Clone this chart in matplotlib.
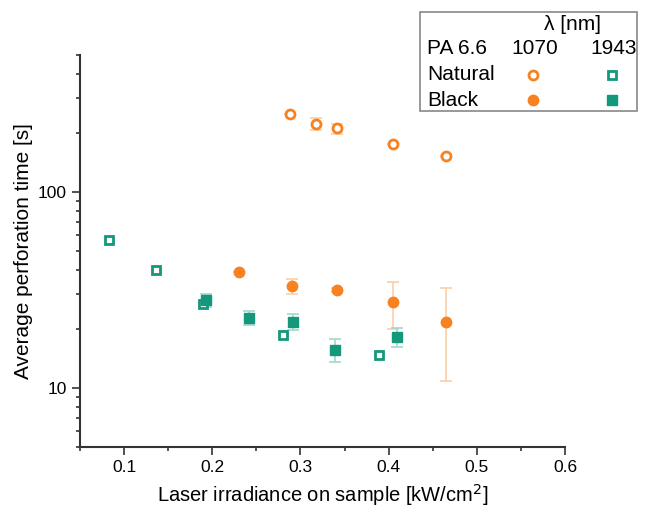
import numpy as np
import matplotlib
matplotlib.use("Agg")
import matplotlib.pyplot as plt
from matplotlib.lines import Line2D
from matplotlib.patches import Rectangle
from matplotlib.ticker import LogLocator, FixedLocator, NullFormatter

plt.rcParams['font.family'] = ['Liberation Sans', 'DejaVu Sans']

# PA 6.6 natural, 1070 nm
nat1070_x = [0.288, 0.318, 0.342, 0.405, 0.465]
nat1070_y = [249, 222, 211, 176, 152]
nat1070_lo = [249, 208, 198, 176, 150]
nat1070_hi = [249, 238, 223, 176, 155]

# PA 6.6 black, 1070 nm
blk1070_x = [0.230, 0.290, 0.342, 0.405, 0.465]
blk1070_y = [39.2, 33.1, 31.6, 27.5, 21.6]
blk1070_lo = [39.2, 30.3, 31.0, 20.0, 10.8]
blk1070_hi = [39.2, 35.9, 32.2, 34.6, 32.5]

# PA 6.6 natural, 1943 nm
nat1943_x = [0.083, 0.136, 0.190, 0.280, 0.389]
nat1943_y = [56.9, 40.0, 26.8, 18.6, 14.7]

# PA 6.6 black, 1943 nm
blk1943_x = [0.193, 0.242, 0.291, 0.339, 0.409]
blk1943_y = [28.1, 22.8, 21.7, 15.6, 18.2]
blk1943_lo = [25.9, 20.9, 19.7, 13.6, 16.1]
blk1943_hi = [30.3, 24.7, 23.9, 17.8, 20.3]

orange = '#F98220'
green = '#14977A'
orange_err = '#FCCFA8'
green_err = '#A3D8CA'


def yerr(y, lo, hi):
    y = np.array(y)
    return [y - np.array(lo), np.array(hi) - y]


fig = plt.figure(figsize=(6.46, 5.09), dpi=100)
ax = fig.add_axes([0.1238, 0.1218, 0.7508, 0.7702])

ax.errorbar(nat1070_x, nat1070_y, yerr=yerr(nat1070_y, nat1070_lo, nat1070_hi),
            fmt='none', ecolor=orange_err, elinewidth=1.2, capsize=4, capthick=1.2)
ax.errorbar(blk1070_x, blk1070_y, yerr=yerr(blk1070_y, blk1070_lo, blk1070_hi),
            fmt='none', ecolor=orange_err, elinewidth=1.2, capsize=4, capthick=1.2)
ax.errorbar(blk1943_x, blk1943_y, yerr=yerr(blk1943_y, blk1943_lo, blk1943_hi),
            fmt='none', ecolor=green_err, elinewidth=1.2, capsize=4, capthick=1.2)

ax.plot(nat1070_x, nat1070_y, 'o', ms=6.5, mfc='white', mec=orange, mew=2, ls='none')
ax.plot(blk1070_x, blk1070_y, 'o', ms=7.5, mfc=orange, mec=orange, ls='none')
ax.plot(nat1943_x, nat1943_y, 's', ms=6, mfc='white', mec=green, mew=2, ls='none')
ax.plot(blk1943_x, blk1943_y, 's', ms=7.5, mfc=green, mec=green, ls='none')

ax.set_yscale('log')
ax.set_xlim(0.05, 0.6)
ax.set_ylim(5, 500)
ax.xaxis.set_major_locator(FixedLocator([0.1, 0.2, 0.3, 0.4, 0.5, 0.6]))
ax.xaxis.set_minor_locator(FixedLocator([0.05, 0.15, 0.25, 0.35, 0.45, 0.55]))
ax.set_xticklabels(['0.1', '0.2', '0.3', '0.4', '0.5', '0.6'])
ax.yaxis.set_major_locator(FixedLocator([10, 100]))
ax.set_yticklabels(['10', '100'])
ax.yaxis.set_minor_locator(LogLocator(base=10, subs=np.arange(2, 10)))
ax.yaxis.set_minor_formatter(NullFormatter())

for s in ['top', 'right']:
    ax.spines[s].set_visible(False)
for s in ['left', 'bottom']:
    ax.spines[s].set_linewidth(1.5)
    ax.spines[s].set_color('#333333')

ax.tick_params(which='major', direction='out', length=5.8, width=1.2, pad=3.5,
               labelsize=12.5, colors='#333333', labelcolor='black')
ax.tick_params(which='minor', direction='out', length=3, width=1.2, colors='#333333')

ax.set_xlabel('Laser irradiance on sample [kW/cm$^2$]', fontsize=14.5, labelpad=5)
ax.set_ylabel('Average perforation time [s]', fontsize=15, labelpad=4)

# table-like legend in figure pixels
W, H = 646.0, 509.0


def fx(px):
    return px / W


def fy(py):
    return 1 - py / H


fig.add_artist(Rectangle((fx(420), fy(111)), fx(637) - fx(420), fy(12) - fy(111),
                         transform=fig.transFigure, fill=False, ec='#888888', lw=1.2))
fig.text(fx(572), fy(24), 'λ [nm]', fontsize=15, ha='center', va='center')
fig.text(fx(427), fy(49), 'PA 6.6', fontsize=15, ha='left', va='center')
fig.text(fx(535), fy(49), '1070', fontsize=15, ha='center', va='center')
fig.text(fx(614), fy(49), '1943', fontsize=15, ha='center', va='center')
fig.text(fx(427), fy(75), 'Natural', fontsize=15, ha='left', va='center')
fig.text(fx(427), fy(100), 'Black', fontsize=15, ha='left', va='center')
fig.add_artist(Line2D([fx(533)], [fy(75)], marker='o', ms=6.5, mfc='white', mec=orange, mew=2, transform=fig.transFigure))
fig.add_artist(Line2D([fx(612)], [fy(75)], marker='s', ms=6, mfc='white', mec=green, mew=2, transform=fig.transFigure))
fig.add_artist(Line2D([fx(533)], [fy(100)], marker='o', ms=7.5, mfc=orange, mec=orange, transform=fig.transFigure))
fig.add_artist(Line2D([fx(612)], [fy(100)], marker='s', ms=7.5, mfc=green, mec=green, transform=fig.transFigure))

fig.savefig('out.png', dpi=100)
